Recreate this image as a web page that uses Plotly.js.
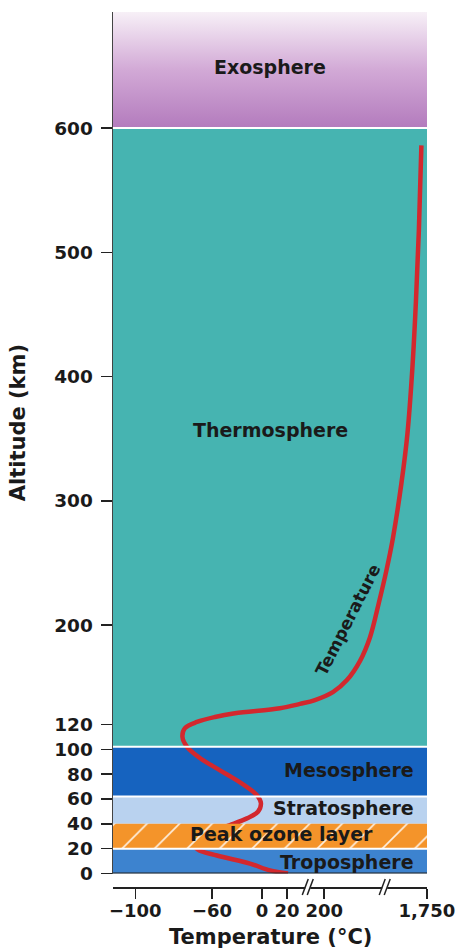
<!DOCTYPE html>
<html><head><meta charset="utf-8">
<script src="https://cdn.plot.ly/plotly-3.0.1.min.js"></script>
<style>html,body{margin:0;padding:0;background:#fff}#chart{width:460px;height:950px}</style>
</head><body><div id="chart"></div>
<script>
// Broken temperature axis: tick temperatures (°C) and their positions along the axis
const tickTemps = [-100, -60, 0, 20, 200, 1750];
const tickLabels = ['\u2212100', '\u221260', '0', '20', '200', '1,750'];
const tickPos = [0, 76.7, 126.7, 151.7, 189, 291.7];
const breakPos = [173, 250];

// Altitude ticks (km)
const altTicks = [0, 20, 40, 60, 80, 100, 120, 200, 300, 400, 500, 600];

// Atmospheric layers (km)
const layerNames  = ['Troposphere', 'Peak ozone layer', 'Stratosphere', 'Mesosphere', 'Thermosphere', 'Exosphere'];
const layerBottom = [0, 20, 40, 62, 102, 600];
const layerTop    = [20, 40, 62, 102, 600, 693.4];
const layerColors = ['#3d83cf', '#f4942a', '#b9d2ef', '#1663bf', '#46b4b1', '#b47dbe'];

// Temperature profile
const curveAlt  = [0, 2.5, 8, 14.5, 19.3, 25, 32, 39, 44.4, 49.7, 56.5, 62, 66, 75, 84, 93, 102, 110, 117, 122, 126, 129, 133, 136.5, 139.6, 146, 155.7, 171, 190, 218, 244, 270, 314, 354, 407, 460, 518, 586];
const curveTemp = [25, 6.4, -14.4, -54, -67.3, -70.4, -63.6, -38.4, -18, -4.8, -1.2, -4.8, -10.8, -30, -52.8, -66.3, -73, -75.4, -74.1, -67.8, -56.4, -32.4, 14.4, 82.7, 155, 331, 543, 739, 890, 1025, 1139, 1237, 1365, 1456, 1531, 1584, 1629, 1667];

const X_RANGE = [-22.3, 291.8];
const Y_RANGE = [0, 693.4];

function toPos(t) {
  let i = 0;
  while (i < tickTemps.length - 2 && t > tickTemps[i + 1]) i++;
  const t0 = tickTemps[i], t1 = tickTemps[i + 1], p0 = tickPos[i], p1 = tickPos[i + 1];
  return p0 + (t - t0) / (t1 - t0) * (p1 - p0);
}

const FONT = 'DejaVu Sans, Arial, sans-serif';
const INK = '#1a1a1a';
const traces = [];
const xl = X_RANGE[0], xr = X_RANGE[1];

function band(i, extra) {
  return Object.assign({
    type: 'scatter', mode: 'lines',
    x: [xl, xr, xr, xl, xl],
    y: [layerBottom[i], layerBottom[i], layerTop[i], layerTop[i], layerBottom[i]],
    fill: 'toself', fillcolor: layerColors[i],
    line: {width: 0}, hoverinfo: 'skip', showlegend: false
  }, extra || {});
}

for (let i = 0; i < layerNames.length; i++) {
  if (i === 1) continue;
  if (i === 5) {
    traces.push(band(i, {fillgradient: {type: 'vertical',
      colorscale: [[0, '#b37bbd'], [0.5, '#d2a9d6'], [1, '#f7f0f7']]}}));
  } else {
    traces.push(band(i));
  }
}

// temperature curve
traces.push({
  type: 'scatter', mode: 'lines',
  x: curveTemp.map(toPos), y: curveAlt,
  line: {color: '#d3282e', width: 4.5, shape: 'spline', smoothing: 1},
  hoverinfo: 'skip', showlegend: false
});

// ozone band on top of the curve, hatched
traces.push(band(1, {fillpattern: {shape: '/', bgcolor: layerColors[1], fgcolor: '#ffffff', fgopacity: 0.85, size: 23, solidity: 0.07}}));

const shapes = [];
[20, 62, 102, 600].forEach(b => shapes.push({type: 'line', xref: 'paper', yref: 'y', x0: 0, x1: 1, y0: b, y1: b, line: {color: '#ffffff', width: 2}, layer: 'above'}));
shapes.push({type: 'line', xref: 'paper', yref: 'y', x0: 0, x1: 1, y0: 0, y1: 0, line: {color: '#222', width: 2}, layer: 'above'});
const px = 1 / 875;
breakPos.forEach(p => {
  shapes.push({type: 'rect', xref: 'x', yref: 'paper', x0: p - 3, x1: p + 2, y0: -3 * px, y1: 3 * px, fillcolor: '#fff', line: {width: 0}});
  shapes.push({type: 'line', xref: 'x', yref: 'paper', x0: p - 6, x1: p, y0: -8 * px, y1: 8 * px, line: {color: '#222', width: 1.5}});
  shapes.push({type: 'line', xref: 'x', yref: 'paper', x0: p - 1, x1: p + 5, y0: -8 * px, y1: 8 * px, line: {color: '#222', width: 1.5}});
});

const lab = {family: FONT, size: 19, color: INK, weight: 'bold'};
function ann(o) { return Object.assign({showarrow: false, xanchor: 'center', yanchor: 'middle', font: lab}, o); }
const annotations = [
  ann({text: 'Exosphere', xref: 'paper', yref: 'y', x: 0.5, y: 649}),
  ann({text: 'Thermosphere', xref: 'paper', yref: 'y', x: 0.5, y: 357}),
  ann({text: 'Mesosphere', xref: 'paper', yref: 'y', x: 0.965, xanchor: 'right', y: 83}),
  ann({text: 'Stratosphere', xref: 'paper', yref: 'y', x: 0.965, xanchor: 'right', y: 52.7}),
  ann({text: 'Peak ozone layer', xref: 'paper', yref: 'y', x: 0.538, y: 31.8}),
  ann({text: 'Troposphere', xref: 'paper', yref: 'y', x: 0.965, xanchor: 'right', y: 9.3}),
  ann({text: 'Temperature', xref: 'paper', yref: 'y', x: 0.748, y: 204, textangle: -63, font: {family: FONT, size: 17, color: INK, weight: 'bold'}}),
  ann({text: 'Altitude (km)', xref: 'paper', yref: 'paper', x: -0.3025, y: 0.53, textangle: -90, font: {family: FONT, size: 21, color: INK, weight: 'bold'}}),
  ann({text: 'Temperature (°C)', xref: 'paper', yref: 'paper', x: 0.5, y: -0.057, font: {family: FONT, size: 21, color: INK, weight: 'bold'}})
];

const layout = {
  width: 460, height: 950,
  margin: {l: 113, r: 33, t: 12, b: 63},
  paper_bgcolor: '#fff', plot_bgcolor: '#fff',
  showlegend: false,
  xaxis: {
    range: X_RANGE, anchor: 'free', position: 0,
    tickmode: 'array', tickvals: tickTemps.map(toPos), ticktext: tickLabels,
    ticks: 'outside', ticklen: 10, tickwidth: 1.5, tickcolor: '#222',
    showline: true, linecolor: '#222', linewidth: 1.5,
    showgrid: false, zeroline: false, fixedrange: true,
    ticklabelstandoff: -3,
    tickfont: {family: FONT, size: 18, color: INK, weight: 'bold'}
  },
  yaxis: {
    range: Y_RANGE, domain: [0.0154, 1],
    tickmode: 'array', tickvals: altTicks,
    ticks: 'outside', ticklen: 11, tickwidth: 1.5, tickcolor: '#222',
    showline: true, linecolor: '#444', linewidth: 1.5,
    showgrid: false, zeroline: false, fixedrange: true,
    ticklabelstandoff: 4,
    tickfont: {family: FONT, size: 18.5, color: INK, weight: 'bold'}
  },
  shapes: shapes,
  annotations: annotations
};

Plotly.newPlot('chart', traces, layout, {displayModeBar: false, staticPlot: true});
</script>
</body></html>
